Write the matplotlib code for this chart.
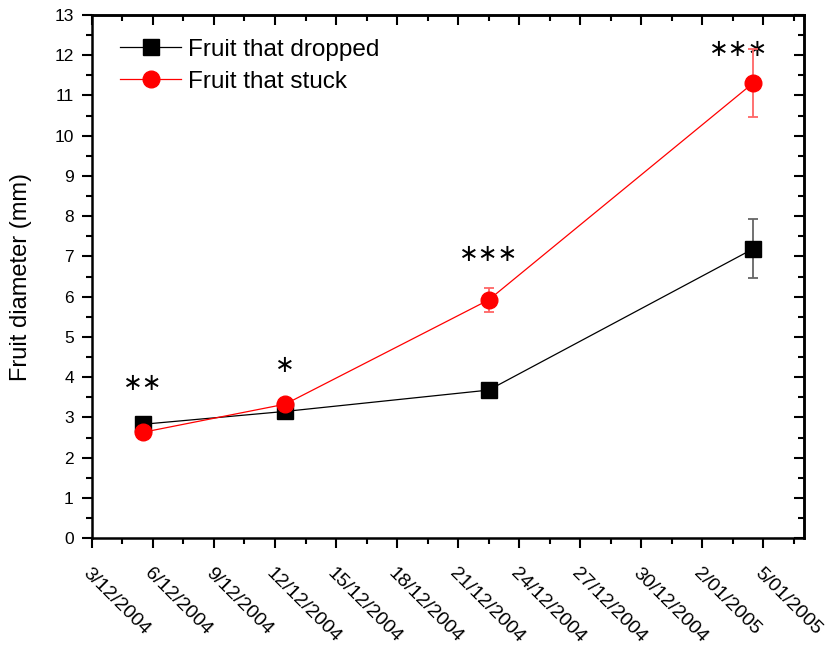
import pandas as pd
import matplotlib
matplotlib.use("Agg")
import matplotlib.pyplot as plt
import matplotlib.dates as mdates
from matplotlib.lines import Line2D
from matplotlib.ticker import FuncFormatter, MultipleLocator, FixedLocator

plt.rcParams['font.family'] = ['Liberation Sans', 'DejaVu Sans']

# sampling dates (mid-day)
dates = pd.to_datetime(['2004-12-05 12:00', '2004-12-12 12:00',
                        '2004-12-22 12:00', '2005-01-04 12:00'])

# fruit that dropped
drop_mean = [2.83, 3.15, 3.68, 7.19]
drop_err = [0.08, 0.08, 0.08, 0.73]

# fruit that stuck
stuck_mean = [2.63, 3.33, 5.92, 11.31]
stuck_err = [0.08, 0.12, 0.29, 0.84]

# significance marks
sig = ['∗∗', '∗', '∗∗∗', '∗∗∗']
sig_y = [3.85, 4.3, 7.05, 12.15]
sig_dx = [0, 0, 0, -0.7]

fig = plt.figure(figsize=(8.35, 6.5), dpi=100)
ax = fig.add_axes([0.110, 0.172, 0.853, 0.805])

xd = mdates.date2num(dates)

ax.errorbar(xd, drop_mean, yerr=drop_err, color='black', lw=0.9, marker='s', ms=11,
            ecolor='#666666', elinewidth=1.3, capsize=3.8, capthick=1.3, zorder=3)
ax.errorbar(xd, stuck_mean, yerr=stuck_err, color='red', lw=0.9, marker='o', ms=12,
            ecolor='#ff6666', elinewidth=1.3, capsize=3.8, capthick=1.3, zorder=4)

for x, s, y, dx in zip(xd, sig, sig_y, sig_dx):
    ax.text(x + dx, y, s, ha='center', va='center', fontsize=17, family='DejaVu Sans')

# axes limits
x0 = mdates.date2num(pd.Timestamp('2004-12-03'))
x1 = mdates.date2num(pd.Timestamp('2005-01-07'))
ax.set_xlim(x0, x1)
ax.set_ylim(0, 13)

major = mdates.date2num(pd.date_range('2004-12-03', '2005-01-05', freq='3D'))
minor = mdates.date2num(pd.date_range('2004-12-03', '2005-01-07', freq='36h'))

def fmt(v, pos):
    d = mdates.num2date(v)
    return f"{d.day}/{d:%m/%Y}"

ax.xaxis.set_major_locator(FixedLocator(major))
ax.xaxis.set_minor_locator(FixedLocator(minor))
ax.xaxis.set_major_formatter(FuncFormatter(fmt))
ax.yaxis.set_major_locator(MultipleLocator(1))
ax.yaxis.set_minor_locator(MultipleLocator(0.5))

ax.tick_params(which='major', direction='out', length=7, width=1.5, labelsize=12.5)
ax.tick_params(which='minor', direction='out', length=4, width=1.5)
ax.tick_params(axis='y', which='major', pad=6)
ax.tick_params(axis='x', which='major', pad=12, labelsize=14)
for lab in ax.get_xticklabels():
    lab.set_rotation(-45)
    lab.set_ha('left')
    lab.set_va('top')
    lab.set_rotation_mode('anchor')

for sp in ax.spines.values():
    sp.set_linewidth(1.8)

# mirrored ticks pointing inward on top and right
top = ax.secondary_xaxis('top')
top.xaxis.set_major_locator(FixedLocator(major))
top.xaxis.set_minor_locator(FixedLocator(minor))
top.tick_params(which='major', direction='in', length=7, width=1.5, labeltop=False)
top.tick_params(which='minor', direction='in', length=4, width=1.5)
top.spines['top'].set_linewidth(1.8)

right = ax.secondary_yaxis('right')
right.yaxis.set_major_locator(MultipleLocator(1))
right.yaxis.set_minor_locator(MultipleLocator(0.5))
right.tick_params(which='major', direction='in', length=7, width=1.5, labelright=False)
right.tick_params(which='minor', direction='in', length=4, width=1.5)
right.spines['right'].set_linewidth(1.8)

ax.set_ylabel('Fruit diameter (mm)', fontsize=17)
ax.yaxis.set_label_coords(-0.084, 0.5)

handles = [Line2D([], [], color='black', lw=0.9, marker='s', ms=11),
           Line2D([], [], color='red', lw=0.9, marker='o', ms=12)]
ax.legend(handles, ['Fruit that dropped', 'Fruit that stuck'],
          loc='upper left', frameon=False, fontsize=17.5, handlelength=2.5,
          borderaxespad=0, borderpad=0, labelspacing=0.42, handletextpad=0.3,
          bbox_to_anchor=(0.04, 0.955))

fig.savefig('out.png', dpi=100)
